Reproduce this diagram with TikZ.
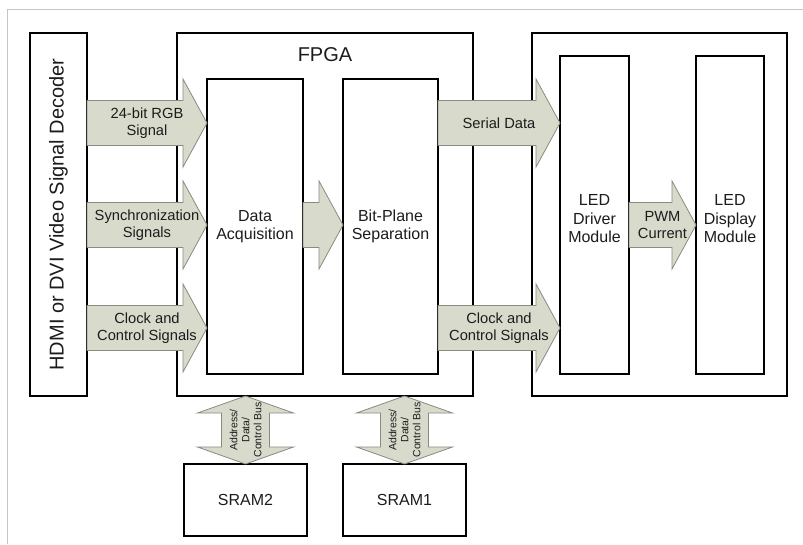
\documentclass[tikz,border=0pt]{standalone}
\usepackage{fontspec}
\setmainfont{Liberation Sans}
\usetikzlibrary{calc,positioning}
\definecolor{sigfill}{HTML}{D8DBCB}
\definecolor{sigline}{HTML}{878B80}
\definecolor{framegray}{HTML}{C4C4C4}
\definecolor{inkdark}{HTML}{1C1C1C}
\tikzset{
  % plain blocks
  blk/.style={draw=black, line width=1.8pt, inner sep=0pt, outer sep=0pt,
    anchor=north west, align=center, text=inkdark,
    font=\fontsize{16}{18.5}\selectfont},
  blklabel/.style={align=center, text=inkdark, font=\fontsize{16}{18.5}\selectfont},
  biglabel/.style={text=inkdark, font=\fontsize{20}{24}\selectfont},
  % fat signal arrows
  sig/.style={fill=sigfill, draw=sigline, line width=0.8pt, line join=miter},
  siglabel/.style={align=center, text=inkdark, inner sep=0pt,
    font=\fontsize{14.7}{17.5}\selectfont},
  buslabel/.style={align=center, text=inkdark, inner sep=0pt, rotate=90,
    font=\fontsize{10.5}{12}\selectfont},
  frame/.style={draw=framegray, line width=1pt},
}
% fat arrow from a tail point to a tip point on the same row
\newcommand{\sigarrow}[4]{%
  \path[sig] let \p1=(#1), \p2=(#2) in
    (\x1,\y1+22.5pt) -- (\x2-24pt,\y1+22.5pt) -- (\x2-24pt,\y1+44pt) -- (\x2,\y1)
    -- (\x2-24pt,\y1-44pt) -- (\x2-24pt,\y1-22.5pt) -- (\x1,\y1-22.5pt) -- cycle
    node[siglabel] (#3) at ({(\x1+\x2)/2},\y1) {#4};}
% two-headed bus arrow, top tip to bottom tip
\newcommand{\busarrow}[3]{%
  \path[sig] let \p1=(#1), \p2=(#2) in
    (\x1,\y1) -- (\x1+48pt,\y1-17pt) -- (\x1+24pt,\y1-17pt) -- (\x1+24pt,\y2+17pt)
    -- (\x1+48pt,\y2+17pt) -- (\x2,\y2) -- (\x1-48pt,\y2+17pt) -- (\x1-24pt,\y2+17pt)
    -- (\x1-24pt,\y1-17pt) -- (\x1-48pt,\y1-17pt) -- cycle
    node[buslabel] (#3) at ({\x1},{(\y1+\y2)/2}) {Address/\\Data/\\Control Bus};}

\begin{document}
\begin{tikzpicture}[x=1pt,y=-1pt]
  \useasboundingbox (0,0) rectangle (803,544);
  \draw[frame] (7,544) -- (7,9) -- (803,9);

  % the blocks
  \node[blk, minimum width=57pt, minimum height=363pt] (dec) at (30,33) {};
  \node[biglabel, rotate=90] (declabel) at (dec.center) {HDMI or DVI Video Signal Decoder};
  \node[blk, minimum width=296pt, minimum height=363pt] (fpga) at (177,33) {};
  \node[biglabel] (fpgalabel) at (325,55) {FPGA};
  \node[blk, minimum width=96pt, minimum height=295pt] (acq) at (207,79) {Data\\Acquisition};
  \node[blk, minimum width=95pt, minimum height=295pt] (bps) at (343,79) {Bit-Plane\\Separation};
  \node[blk, minimum width=255pt, minimum height=363pt] (ledsys) at (532,33) {};
  \node[blk, minimum width=69pt, minimum height=318pt] (drv) at (560,56) {};
  \node[blklabel] (drvlabel) at (594.5,219) {LED\\Driver\\Module};
  \node[blk, minimum width=68pt, minimum height=318pt] (disp) at (696,56) {};
  \node[blklabel] (displabel) at (730,219) {LED\\Display\\Module};
  \node[blk, minimum width=123pt, minimum height=72pt] (sram2) at (184,464) {SRAM2};
  \node[blk, minimum width=123pt, minimum height=72pt] (sram1) at (343,464) {SRAM1};

  % rows of the signal arrows
  \coordinate (row1) at (0,123);
  \coordinate (row2) at (0,225);
  \coordinate (row3) at (0,328);

  \foreach \from/\to/\row/\nm/\t in {
      dec/acq/row1/rgb/{24-bit RGB\\Signal},
      dec/acq/row2/sync/{Synchronization\\Signals},
      dec/acq/row3/clka/{Clock and\\Control Signals},
      acq/bps/row2/planes/{},
      bps/drv/row1/serial/{Serial Data},
      bps/drv/row3/clkb/{Clock and\\Control Signals},
      drv/disp/row2/pwm/{PWM\\Current}}
    \sigarrow{\from.east |- \row}{\to.west |- \row}{\nm}{\t};

  \busarrow{fpga.south -| sram2.north}{sram2.north}{bus2}
  \busarrow{fpga.south -| sram1.north}{sram1.north}{bus1}
\end{tikzpicture}
\end{document}
